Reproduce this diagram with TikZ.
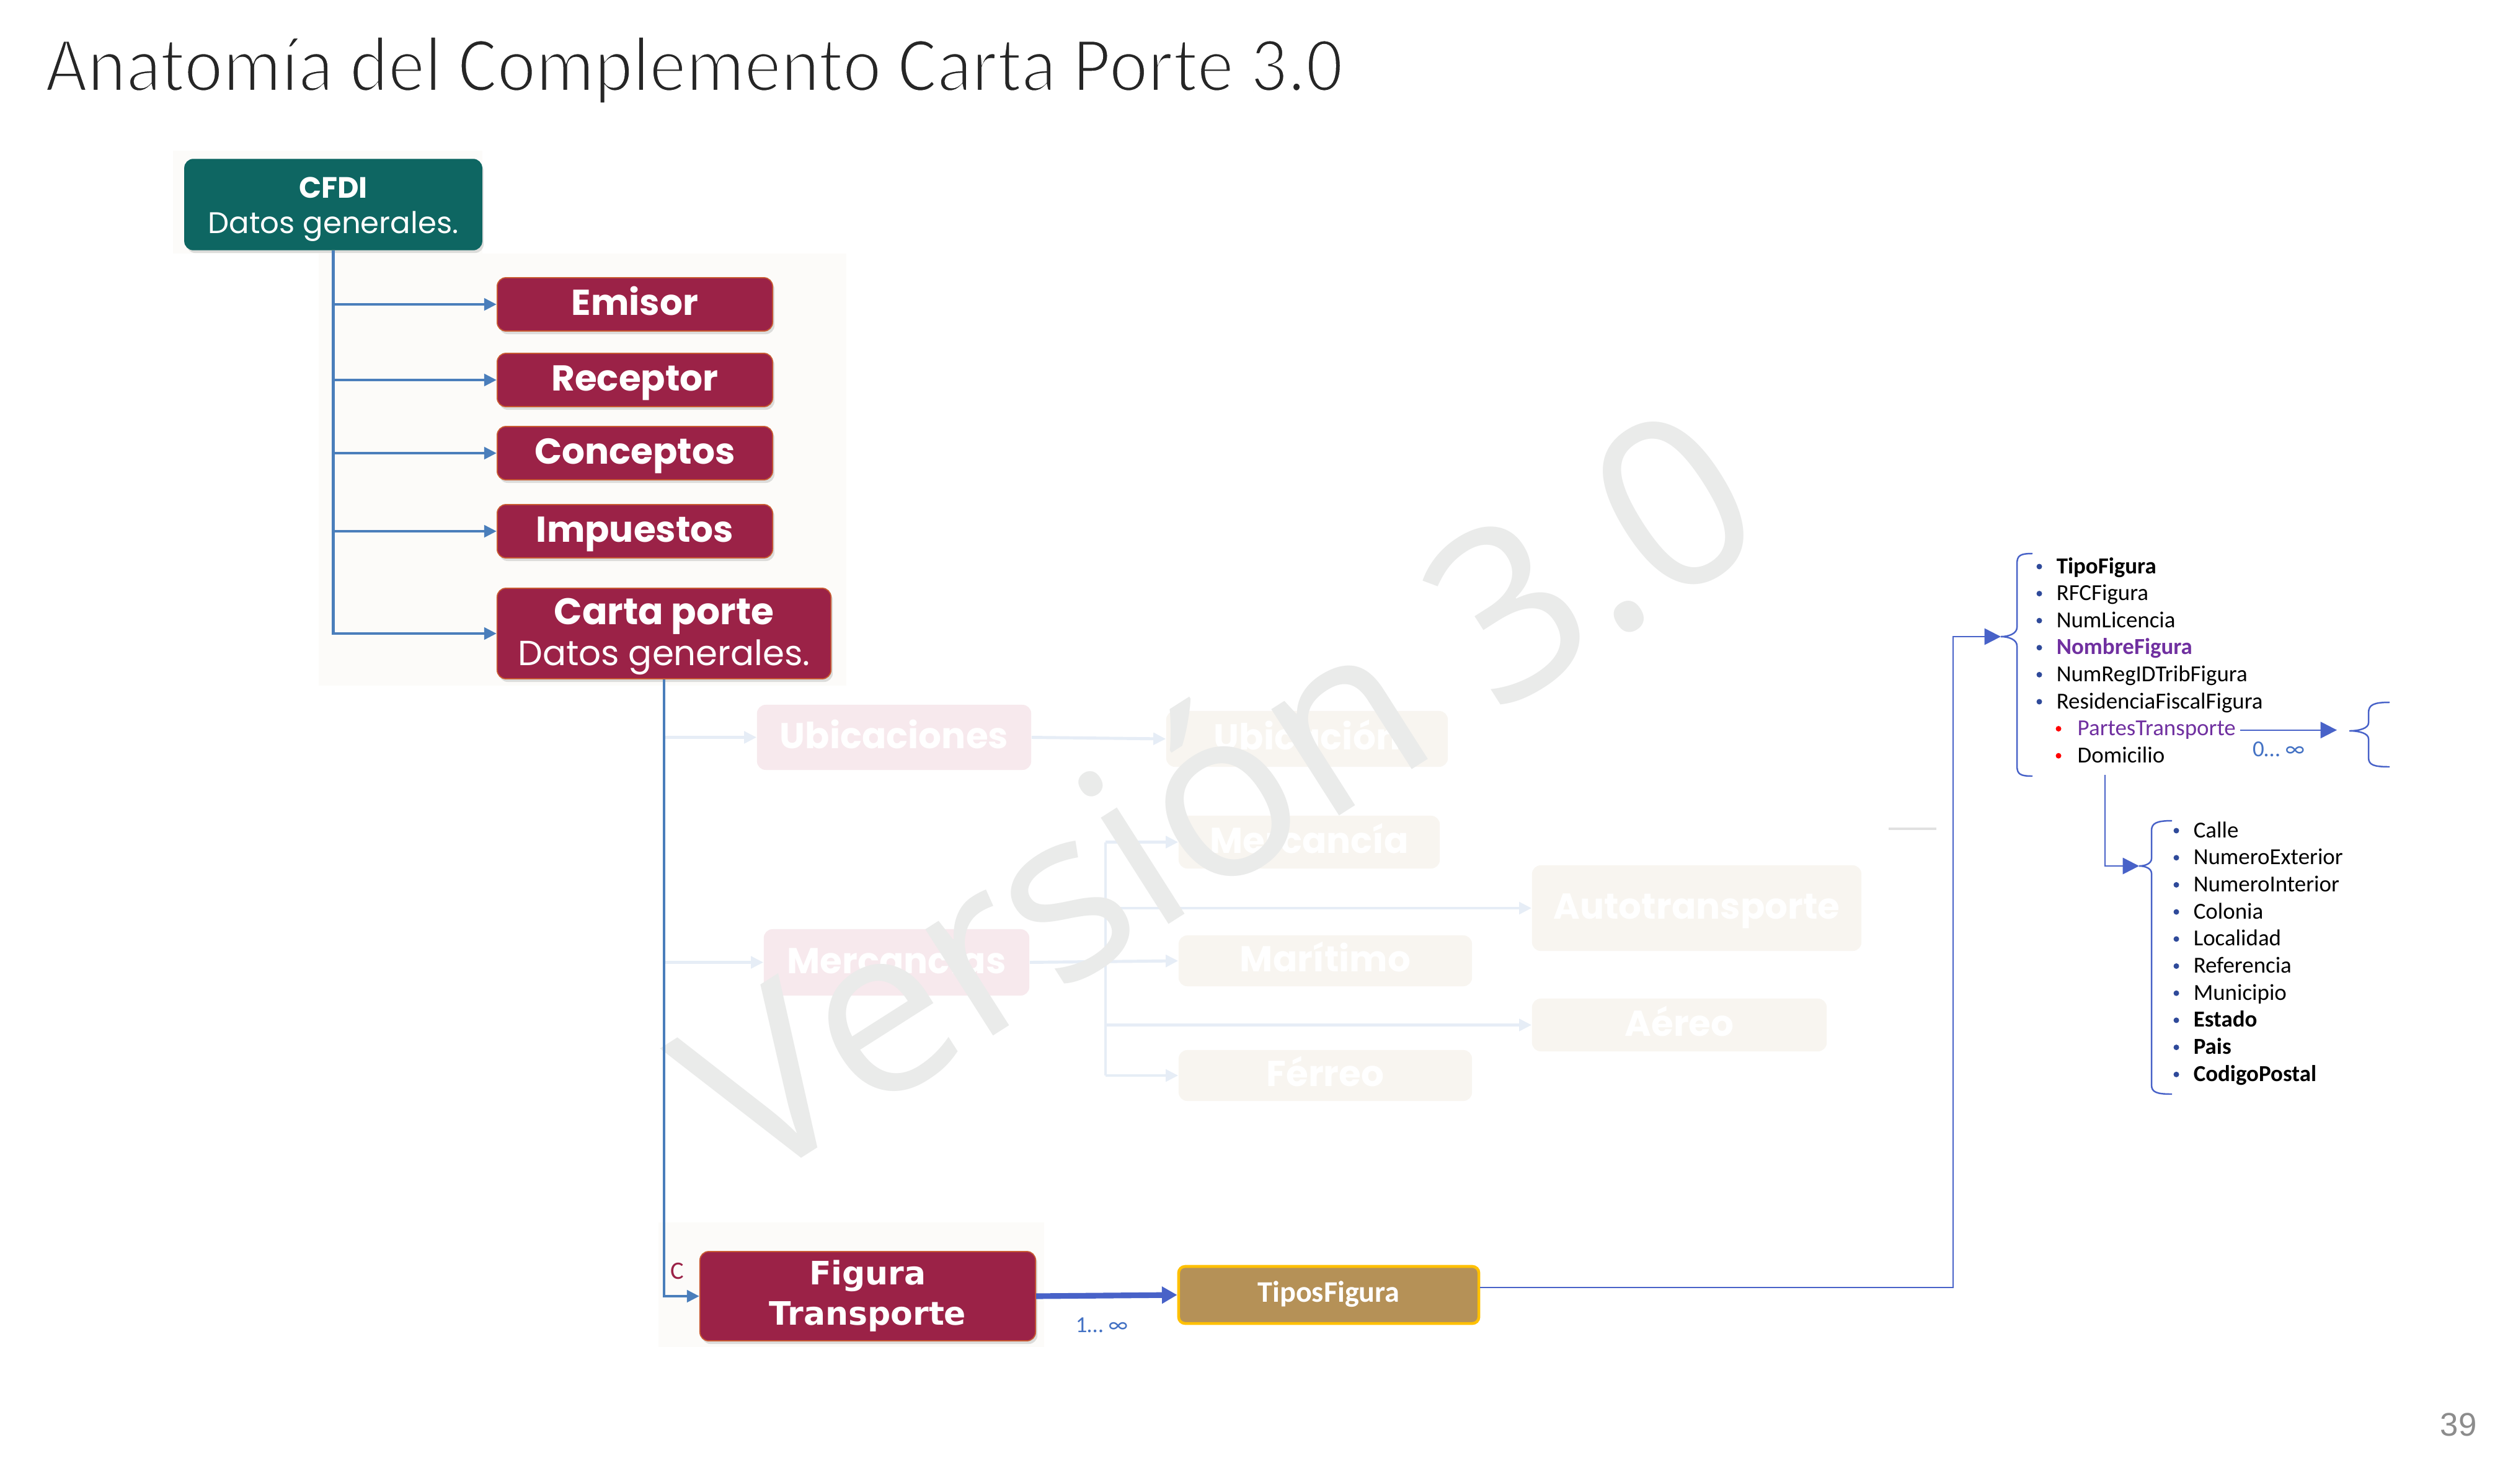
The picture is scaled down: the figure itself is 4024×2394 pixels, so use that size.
\documentclass[tikz,border=0pt]{standalone}
\usepackage{fontspec}
\setmainfont{Carlito}
\newfontfamily\pop{Poppins}
\newfontfamily\dvs{DejaVu Sans}
\newfontfamily\osans{Open Sans}
\newfontfamily\lsans{Liberation Sans}
\usetikzlibrary{arrows.meta,shadows,calc}
\pgfdeclarelayer{back}
\pgfdeclarelayer{wmark}
\pgfsetlayers{back,wmark,main}
\newcommand\thinstart{\special{pdf:literal direct 1 1 1 RG 2 Tr 1.15 w}}
\newcommand\thinend{\special{pdf:literal direct 0 Tr}}
\definecolor{cpred}{RGB}{155,34,71}
\definecolor{cporange}{RGB}{200,90,50}
\definecolor{cpteal}{RGB}{14,102,98}
\definecolor{lblue}{RGB}{74,126,187}
\definecolor{rblue}{RGB}{72,98,200}
\definecolor{bulblue}{RGB}{47,74,154}
\definecolor{cptan}{RGB}{181,145,87}
\definecolor{cpgold}{RGB}{255,192,0}
\definecolor{purp}{RGB}{112,48,160}
\definecolor{fpink}{RGB}{247,233,237}
\definecolor{fbeige}{RGB}{248,245,240}
\definecolor{fline}{RGB}{230,237,246}
\definecolor{wmc}{RGB}{234,235,234}
\definecolor{bgfaint}{RGB}{252,251,249}
\definecolor{titlec}{RGB}{38,38,38}
\definecolor{pgnum}{RGB}{140,140,140}
\definecolor{lblabel}{RGB}{68,114,196}
\begin{document}
\begin{tikzpicture}[x=0.01cm,y=-0.01cm,
  box/.style={rounded corners=4pt, inner sep=0pt, text=white, align=center,
    drop shadow={shadow xshift=0.03cm,shadow yshift=-0.05cm,opacity=0.25}},
  redbox/.style={box, fill=cpred, draw=cporange, line width=0.5pt},
  tealbox/.style={box, fill=cpteal, draw=cpteal},
  onel/.style={text height=12pt, text depth=2pt, font=\pop\bfseries\fontsize{16.5pt}{19pt}\selectfont},
  fadebox/.style={rounded corners=4pt, inner sep=0pt, text=white, text height=12pt, text depth=2pt,
    font=\pop\bfseries\fontsize{16.5pt}{19pt}\selectfont},
  fpinkbox/.style={fadebox, fill=fpink},
  fbeigebox/.style={fadebox, fill=fbeige},
  lconn/.style={draw=lblue, line width=1.4pt, -{Triangle[length=5.7pt,width=5.4pt]}},
  fconn/.style={draw=fline, line width=1.4pt, -{Triangle[length=5.7pt,width=5.4pt]}},
  fplain/.style={draw=fline, line width=1.4pt},
  rconn/.style={draw=rblue, line width=0.7pt, -{Triangle[length=7.5pt,width=7.5pt]}},
  thickconn/.style={draw=rblue, line width=2.6pt, -{Triangle[length=7pt,width=7.5pt]}},
  bracestyle/.style={draw=rblue, line width=0.7pt},
  item/.style={anchor=base west, inner sep=0pt, text=black, font=\fontsize{10.5pt}{12pt}\selectfont},
  bolditem/.style={item, font=\bfseries\fontsize{10.5pt}{12pt}\selectfont},
  numlabel/.style={inner sep=0pt, text=lblabel, font=\fontsize{10.5pt}{12pt}\selectfont}
]
\useasboundingbox (0,0) rectangle (4024,2394);

% white page and faint background panels
\begin{pgfonlayer}{back}
\fill[white] (0,0) rectangle (4024,2394);
\fill[bgfaint] (514,409) rectangle (1365,1106);
\fill[bgfaint] (279,243) rectangle (778,409);
\fill[bgfaint] (1062,1972) rectangle (1684,2173);
\end{pgfonlayer}

% title
\node[anchor=base west, inner sep=0pt, text=titlec, font=\fontsize{33.6pt}{40pt}\selectfont] (title) at (72,147)
  {\scalebox{1}[1.08]{\thinstart Anatomía del Complemento Carta Porte 3.0\thinend}};

% main boxes
\node[tealbox, minimum width=4.79cm, minimum height=1.46cm, font=\fontsize{13.7pt}{16.2pt}\selectfont] (cfdi) at (537.5,330)
  {{\pop\bfseries\fontsize{13.5pt}{16.2pt}\selectfont CFDI\rule{0pt}{0.49cm}}\\{\pop\fontsize{13.7pt}{16.2pt}\selectfont Datos generales.}};
\node[redbox, onel, minimum width=4.44cm, minimum height=0.86cm] (emisor) at (1024,491) {Emisor};
\node[redbox, onel, minimum width=4.44cm, minimum height=0.86cm] (receptor) at (1024,613) {Receptor};
\node[redbox, onel, minimum width=4.44cm, minimum height=0.86cm] (conceptos) at (1024,731) {Conceptos};
\node[redbox, onel, minimum width=4.44cm, minimum height=0.86cm] (impuestos) at (1024,857) {Impuestos};
\node[redbox, minimum width=5.38cm, minimum height=1.46cm, font=\fontsize{16pt}{18.8pt}\selectfont] (cp) at (1071,1022)
  {{\pop\bfseries\fontsize{17pt}{18.8pt}\selectfont Carta porte\rule{0pt}{0.52cm}}\\{\pop\fontsize{16pt}{18.8pt}\selectfont Datos generales.}};
\node[redbox, minimum width=5.41cm, minimum height=1.44cm, font=\dvs\bfseries\fontsize{14.8pt}{18.5pt}\selectfont] (figura) at (1399.5,2091)
  {Figura\\Transporte};
\node[rounded corners=3pt, fill=cptan, draw=cpgold, line width=1.3pt, inner sep=0pt, text=white,
  minimum width=4.84cm, minimum height=0.92cm, text height=8.8pt, text depth=2pt,
  font=\bfseries\fontsize{13.7pt}{16pt}\selectfont] (tipos) at (2143,2089) {TiposFigura};

% faded background diagram
\begin{pgfonlayer}{back}
\node[fpinkbox, minimum width=4.42cm, minimum height=1.05cm] (ubics) at (1442,1189.5) {Ubicaciones};
\node[fbeigebox, minimum width=4.54cm, minimum height=0.90cm] (ubic) at (2108,1192) {Ubicación};
\node[fbeigebox, minimum width=4.21cm, minimum height=0.85cm] (merc) at (2111.5,1358.5) {Mercancía};
\node[fbeigebox, minimum width=5.31cm, minimum height=1.38cm] (auto) at (2736.5,1465) {Autotransporte};
\node[fpinkbox, minimum width=4.28cm, minimum height=1.07cm] (mercs) at (1446,1552.5) {Mercancías};
\node[fbeigebox, minimum width=4.73cm, minimum height=0.82cm] (mar) at (2137.5,1550) {Marítimo};
\node[fbeigebox, minimum width=4.75cm, minimum height=0.85cm] (aereo) at (2708.5,1653.5) {Aéreo};
\node[fbeigebox, minimum width=4.73cm, minimum height=0.82cm] (ferreo) at (2137.5,1735) {Férreo};
\coordinate (fk) at (1783,1550);
\draw[fconn] (cp.south |- ubics.west) -- (ubics.west);
\draw[fconn] (ubics.east) -- (ubic.west);
\draw[fconn] (cp.south |- mercs.west) -- (mercs.west);
\draw[fconn] (mercs.east) -- (mar.west);
\draw[fplain] (fk |- merc.west) -- (fk |- ferreo.west);
\draw[fconn] (fk |- merc.west) -- (merc.west);
\draw[fconn] (fk |- auto.west) -- (auto.west);
\draw[fconn] (fk |- aereo.west) -- (aereo.west);
\draw[fconn] (fk |- ferreo.west) -- (ferreo.west);
\draw[draw={rgb,255:red,225;green,225;blue,225}, line width=1pt] (3046,1337) -- (3123,1337);
\end{pgfonlayer}

% watermark
\begin{pgfonlayer}{wmark}
\node[rotate=32.5, anchor=base, inner sep=0pt, text=wmc, font=\osans\fontsize{108pt}{112pt}\selectfont] (wmk) at (2037,1394) {Versión 3.0};
\end{pgfonlayer}

% left connectors
\draw[lconn] (cfdi.south) |- (emisor.west);
\draw[lconn] (cfdi.south) |- (receptor.west);
\draw[lconn] (cfdi.south) |- (conceptos.west);
\draw[lconn] (cfdi.south) |- (impuestos.west);
\draw[lconn] (cfdi.south) |- (cp.west);
\draw[lconn] (cp.south) |- (figura.west);
\node[inner sep=0pt, text=cpred, font=\fontsize{11.5pt}{13pt}\selectfont] (clabel) at (1092,2050) {C};

% Figura -> TiposFigura
\draw[thickconn] (figura.east) -- (tipos.west);
\node[numlabel] (n1) at (1777,2138) {1… ∞};

% TiposFigura -> attribute bracket
\coordinate (vx) at (3150,1027);
\coordinate (b1tip) at (3227,1027);
\draw[rconn] ($(tipos.east)+(0,-12)$) -| (vx) -- (b1tip);
\draw[bracestyle] (3278,893) .. controls (3258,893) and (3253,896) .. (3253,910) -- (3253,1012)
  .. controls (3253,1022) and (3240,1027) .. (3227,1027)
  .. controls (3240,1027) and (3253,1032) .. (3253,1042) -- (3253,1235)
  .. controls (3253,1249) and (3258,1252) .. (3278,1252);

% attribute list
\foreach \k in {0,...,5} {\fill[bulblue] (3289,925+43.6*\k-11) circle (0.045cm);}
\fill[red] (3320,1186.6-11) circle (0.045cm);
\fill[red] (3320,1230.2-11) circle (0.045cm);
\node[bolditem] (a1) at (3316,925) {TipoFigura};
\node[item] (a2) at (3316,968.6) {RFCFigura};
\node[item] (a3) at (3316,1012.2) {NumLicencia};
\node[bolditem, text=purp] (a4) at (3316,1055.8) {NombreFigura};
\node[item] (a5) at (3316,1099.4) {NumRegIDTribFigura};
\node[item] (a6) at (3316,1143) {ResidenciaFiscalFigura};
\node[item, text=purp] (partes) at (3350,1186.6) {PartesTransporte};
\node[item] (domicilio) at (3350,1230.2) {Domicilio};

% PartesTransporte -> bracket
\coordinate (b2arr) at (3769,1181);
\draw[rconn, shorten <=0.06cm] (partes.east) -- (partes.east -| b2arr);
\node[numlabel] (n0) at (3675,1209) {0… ∞};
\draw[bracestyle] (3854,1133) .. controls (3828,1133) and (3820,1137) .. (3820,1150) -- (3820,1166)
  .. controls (3820,1175) and (3805,1179) .. (3789,1179)
  .. controls (3805,1179) and (3820,1183) .. (3820,1192) -- (3820,1222)
  .. controls (3820,1234) and (3828,1237) .. (3854,1237);

% Domicilio -> address bracket
\coordinate (dom) at (3395,1250);
\coordinate (b3tip) at (3450,1397);
\draw[rconn] (dom) |- (b3tip);
\draw[bracestyle] (3503,1324) .. controls (3478,1324) and (3470,1328) .. (3470,1340) -- (3470,1385)
  .. controls (3470,1393) and (3460,1397) .. (3450,1397)
  .. controls (3460,1397) and (3470,1401) .. (3470,1409) -- (3470,1750)
  .. controls (3470,1762) and (3478,1765) .. (3503,1765);

% address list
\foreach \k in {0,...,9} {\fill[bulblue] (3510,1351+43.7*\k-11) circle (0.045cm);}
\node[item] (d1) at (3537,1351) {Calle};
\node[item] (d2) at (3537,1394.7) {NumeroExterior};
\node[item] (d3) at (3537,1438.4) {NumeroInterior};
\node[item] (d4) at (3537,1482.1) {Colonia};
\node[item] (d5) at (3537,1525.8) {Localidad};
\node[item] (d6) at (3537,1569.5) {Referencia};
\node[item] (d7) at (3537,1613.2) {Municipio};
\node[bolditem] (d8) at (3537,1656.9) {Estado};
\node[bolditem] (d9) at (3537,1700.6) {Pais};
\node[bolditem] (d10) at (3537,1744.3) {CodigoPostal};

% page number
\node[inner sep=0pt, text=pgnum, font=\lsans\fontsize{15pt}{18pt}\selectfont] (pg) at (3965,2298) {39};
\end{tikzpicture}
\end{document}
